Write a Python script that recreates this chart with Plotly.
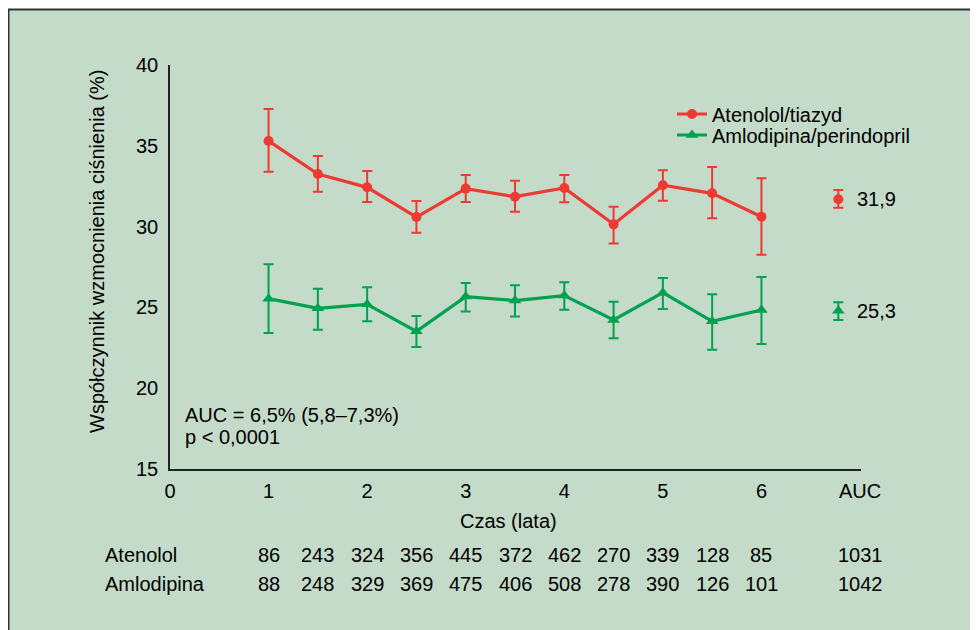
import plotly.graph_objects as go

# ---- data ----
times = [1, 1.5, 2, 2.5, 3, 3.5, 4, 4.5, 5, 5.5, 6]
aten = [35.3, 33.25, 32.43, 30.59, 32.35, 31.85, 32.39, 30.14, 32.56, 32.06, 30.61]
aten_hi = [37.28, 34.37, 33.44, 31.58, 33.19, 32.84, 33.19, 31.23, 33.48, 33.69, 32.99]
aten_lo = [33.4, 32.16, 31.52, 29.62, 31.52, 30.92, 31.5, 28.96, 31.6, 30.51, 28.26]
amlo = [25.54, 24.94, 25.19, 23.52, 25.67, 25.42, 25.73, 24.22, 25.91, 24.14, 24.84]
amlo_hi = [27.67, 26.16, 26.24, 24.47, 26.51, 26.37, 26.55, 25.35, 26.82, 25.81, 26.88]
amlo_lo = [23.42, 23.62, 24.14, 22.55, 24.74, 24.43, 24.86, 23.09, 24.9, 22.38, 22.74]

auc_x = 6.78
aten_auc = 31.69
aten_auc_hi = 32.26
aten_auc_lo = 31.17
amlo_auc = 24.8
amlo_auc_hi = 25.32
amlo_auc_lo = 24.22
aten_auc_label = "31,9"
amlo_auc_label = "25,3"

tick_vals = [0, 1, 2, 3, 4, 5, 6, 7]
tick_text = ["0", "1", "2", "3", "4", "5", "6", "AUC"]

table_x = times + [7]
aten_n = [86, 243, 324, 356, 445, 372, 462, 270, 339, 128, 85, 1031]
amlo_n = [88, 248, 329, 369, 475, 406, 508, 278, 390, 126, 101, 1042]
row_names = ["Atenolol", "Amlodipina"]

RED = "#EE3A33"
GREEN = "#00A14F"
BG = "#C4DBC9"
FONT = "Liberation Sans, Arial, sans-serif"

OFF = 8  # page body margin
W, H = 978 - OFF, 630 - OFF
L, T = 170 - OFF, 65 - OFF
R = W - (861 - OFF)
B = H - (469 - OFF)
PW, PH = W - L - R, H - T - B


def px(X):
    """page x pixel -> paper coordinate"""
    return (X - OFF - L) / PW


def py(Y):
    """page y pixel -> paper coordinate"""
    return (H - B - (Y - OFF)) / PH


fig = go.Figure()


def err(vals, hi, lo):
    return dict(type="data", symmetric=False,
                array=[h - v for h, v in zip(hi, vals)],
                arrayminus=[v - l for v, l in zip(vals, lo)])


fig.add_trace(go.Scatter(
    x=times, y=aten, mode="lines+markers", name="Atenolol/tiazyd",
    line=dict(color=RED, width=3.2), marker=dict(symbol="circle", size=10, color=RED),
    error_y=dict(**err(aten, aten_hi, aten_lo), color=RED, thickness=2, width=5),
    legend="legend", cliponaxis=False))
fig.add_trace(go.Scatter(
    x=times, y=amlo, mode="lines+markers", name="Amlodipina/perindopril",
    line=dict(color=GREEN, width=3.2), marker=dict(symbol="triangle-up", size=11, color=GREEN),
    error_y=dict(**err(amlo, amlo_hi, amlo_lo), color=GREEN, thickness=2, width=5),
    legend="legend2", cliponaxis=False))

fig.add_trace(go.Scatter(
    x=[auc_x], y=[aten_auc], mode="markers", showlegend=False,
    marker=dict(symbol="circle", size=10, color=RED),
    error_y=dict(**err([aten_auc], [aten_auc_hi], [aten_auc_lo]), color=RED, thickness=2, width=5)))
fig.add_trace(go.Scatter(
    x=[auc_x], y=[amlo_auc], mode="markers", showlegend=False,
    marker=dict(symbol="triangle-up", size=11, color=GREEN),
    error_y=dict(**err([amlo_auc], [amlo_auc_hi], [amlo_auc_lo]), color=GREEN, thickness=2, width=5)))

ann = []
txt = dict(family=FONT, size=20, color="black")
ann.append(dict(x=px(855), xref="paper", y=aten_auc, yref="y", text=aten_auc_label,
                showarrow=False, xanchor="left", yanchor="middle", font=txt))
ann.append(dict(x=px(855), xref="paper", y=amlo_auc, yref="y", text=amlo_auc_label,
                showarrow=False, xanchor="left", yanchor="middle", font=txt))
ann.append(dict(x=px(183), xref="paper", y=py(415), yref="paper", text="AUC = 6,5% (5,8–7,3%)",
                showarrow=False, xanchor="left", yanchor="middle", font=txt))
ann.append(dict(x=px(183), xref="paper", y=py(437), yref="paper", text="p < 0,0001",
                showarrow=False, xanchor="left", yanchor="middle", font=txt))
ann.append(dict(x=px(508), xref="paper", y=py(521), yref="paper", text="Czas (lata)",
                showarrow=False, xanchor="center", yanchor="middle", font=txt))
ann.append(dict(x=px(97), xref="paper", y=py(252), yref="paper",
                text="Współczynnik wzmocnienia ciśnienia (%)", textangle=-90,
                showarrow=False, xanchor="center", yanchor="middle", font=txt))

for name, row, Y in [(row_names[0], aten_n, 555), (row_names[1], amlo_n, 584)]:
    ann.append(dict(x=px(103), xref="paper", y=py(Y), yref="paper", text=name,
                    showarrow=False, xanchor="left", yanchor="middle", font=txt))
    for xv, n in zip(table_x, row):
        ann.append(dict(x=xv, xref="x", y=py(Y), yref="paper", text=str(n),
                        showarrow=False, xanchor="center", yanchor="middle", font=txt))

fig.update_layout(
    width=W, height=H,
    margin=dict(l=L, r=R, t=T, b=B, autoexpand=False),
    paper_bgcolor="white", plot_bgcolor="rgba(0,0,0,0)",
    font=dict(family=FONT, size=20, color="black"),
    shapes=[dict(type="rect", xref="paper", yref="paper",
                 x0=px(OFF + 0.5), x1=px(990), y0=py(660), y1=py(OFF + 1.5),
                 fillcolor=BG, line=dict(color="#333333", width=2), layer="below")],
    annotations=ann,
    xaxis=dict(range=[0, 7.01], tickvals=tick_vals, ticktext=tick_text,
               showgrid=False, zeroline=False, showline=True, linecolor="#222222",
               linewidth=1.5, ticks="", ticklabelstandoff=3,
               tickfont=dict(family=FONT, size=20, color="black")),
    yaxis=dict(range=[15, 40], tickvals=[15, 20, 25, 30, 35, 40],
               showgrid=False, zeroline=False, showline=True, linecolor="#222222",
               linewidth=1.5, ticks="", ticklabelstandoff=6,
               tickfont=dict(family=FONT, size=20, color="black")),
    legend=dict(x=px(672), y=py(114), xanchor="left", yanchor="middle",
                bgcolor="rgba(0,0,0,0)", font=txt, borderwidth=0),
    legend2=dict(x=px(672), y=py(135), xanchor="left", yanchor="middle",
                 bgcolor="rgba(0,0,0,0)", font=txt, borderwidth=0),
)

fig.write_html("out.html")
